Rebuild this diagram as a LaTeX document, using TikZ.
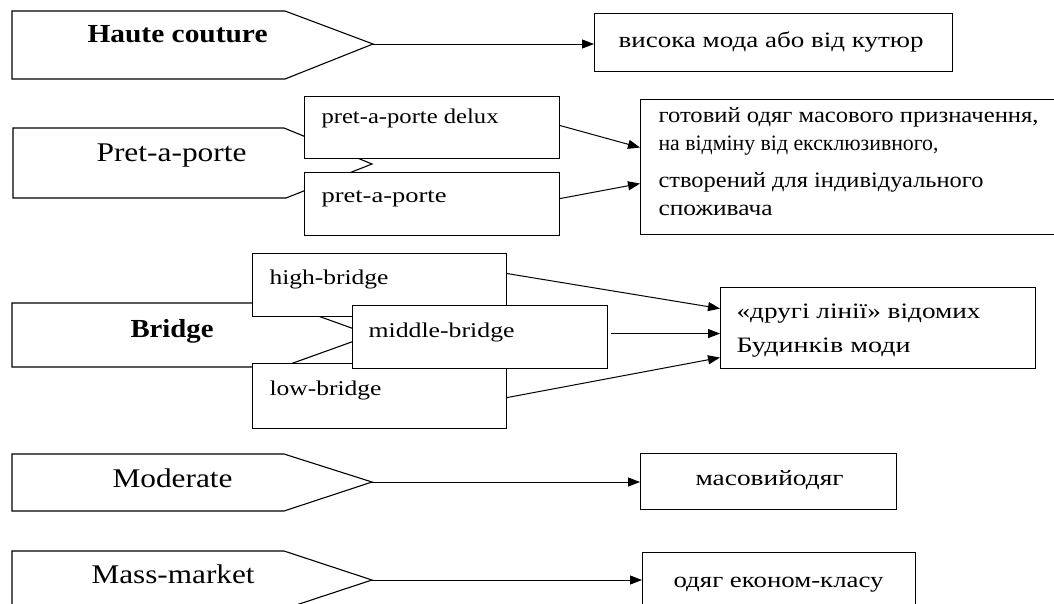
\documentclass[tikz,border=0pt]{standalone}
\usepackage{fontspec}
\usepackage{graphicx}
\setmainfont{Liberation Serif}
\usetikzlibrary{arrows.meta,calc}
\newcommand\fitw[2]{\resizebox{#1}{\height}{#2}}
\begin{document}
\begin{tikzpicture}[x=1pt,y=-1pt,line width=1.1pt,
  box/.style={draw,fill=white,inner sep=0pt,anchor=north west},
  pent/.style={draw,fill=white,line join=miter},
  txt/.style={inner sep=0pt,anchor=base west},
  ttlb/.style={txt,font=\bfseries\fontsize{26}{30}\selectfont},
  ttlr/.style={txt,font=\fontsize{27}{31}\selectfont},
  lbl/.style={txt,font=\fontsize{21}{25}\selectfont},
  cyr/.style={txt,font=\fontsize{22}{26}\selectfont},
  arr/.style={-{Triangle[length=12pt,width=9pt]},line width=1pt}]
\fill[white] (0,0) rectangle (1054,603);
\clip (0,0) rectangle (1054,603);

% ---------- Haute couture ----------
\draw[pent] (12,11) -- (285,11) -- (373,44) coordinate (hctip) -- (285,79) -- (12,79) -- cycle;
\node[ttlb] (hct) at (87,42.7) {\fitw{180pt}{Haute couture}};
\node[box,minimum width=358pt,minimum height=58pt] (hcbox) at (594,13) {};
\node[cyr] (hcd) at (618,47) {\fitw{305pt}{висока мода або від кутюр}};
\draw[arr] (hctip) -- (hctip -| hcbox.west);

% ---------- Pret-a-porte ----------
\draw[pent] (13,128) -- (284,128) -- (372,164) coordinate (pptip) -- (286,198) -- (13,198) -- cycle;
\node[ttlr] (ppt) at (96,161) {\fitw{150pt}{Pret-a-porte}};
\node[box,minimum width=255pt,minimum height=62pt] (pd) at (304,96) {};
\node[lbl] (pdt) at (321,123) {\fitw{177pt}{pret-a-porte delux}};
\node[box,minimum width=255pt,minimum height=63pt] (pp) at (304,172) {};
\node[lbl] (ppl) at (321,202) {\fitw{125pt}{pret-a-porte}};
\node[box,minimum width=420pt,minimum height=135pt] (rb) at (640,99) {};
\node[cyr] (rb1) at (658,122) {\fitw{380pt}{готовий одяг масового призначення,}};
\node[cyr] (rb2t) at (658,150) {\fitw{280pt}{на відміну від ексклюзивного,}};
\node[cyr] (rb3) at (658,187) {\fitw{325pt}{створений для індивідуального}};
\node[cyr] (rb4) at (658,215) {\fitw{114pt}{споживача}};
\draw[arr] ([yshift=2pt]pd.east) -- ([yshift=19.5pt]rb.west);
\draw[arr] ([yshift=5.5pt]pp.east) -- ([yshift=-16.5pt]rb.west);

% ---------- Bridge ----------
\draw[pent] (12,303) -- (282,303) -- (371,335) coordinate (brtip) -- (282,367) -- (12,367) -- cycle;
\node[ttlb] (brt) at (130,337) {\fitw{83pt}{Bridge}};
\node[box,minimum width=254pt,minimum height=63pt] (hb) at (252,253) {};
\node[lbl] (hbt) at (269,284) {\fitw{119pt}{high-bridge}};
\node[box,minimum width=254pt,minimum height=65pt] (lb) at (252,363) {};
\node[lbl] (lbt) at (269,395) {\fitw{112pt}{low-bridge}};
\node[box,minimum width=255pt,minimum height=63pt] (mb) at (352,305) {};
\node[lbl] (mbt) at (368,337) {\fitw{146pt}{middle-bridge}};
\node[box,minimum width=315pt,minimum height=81pt] (bb) at (720,287) {};
\node[cyr] (bb1) at (736,318) {\fitw{244pt}{«другі лінії» відомих}};
\node[cyr] (bb2) at (736,352) {\fitw{174pt}{Будинків моди}};
\draw[arr] ([yshift=11.5pt]hb.east) -- ([yshift=19.5pt]bb.west);
\draw[arr] ([xshift=3pt,yshift=3.5pt]mb.east) -- ([yshift=-5.5pt]bb.west);
\draw[arr] ([yshift=-1.5pt]lb.east) -- ([yshift=-29.5pt]bb.west);

% ---------- Moderate ----------
\draw[pent] (12,454) -- (284,454) -- (372,482) coordinate (mdtip) -- (284,511) -- (12,511) -- cycle;
\node[ttlr] (mdt) at (112,487) {\fitw{120pt}{Moderate}};
\node[box,minimum width=256pt,minimum height=56pt] (mdbox) at (640,453) {};
\node[cyr] (mdd) at (695,485) {\fitw{148pt}{масовийодяг}};
\draw[arr] (mdtip) -- (mdtip -| mdbox.west);

% ---------- Mass-market ----------
\draw[pent] (12,551) -- (284,551) -- (372,580) coordinate (mmtip) -- (284,609) -- (12,609) -- cycle;
\node[ttlr] (mmt) at (91,583) {\fitw{163pt}{Mass-market}};
\node[box,minimum width=273pt,minimum height=60pt] (mmbox) at (642,552) {};
\node[cyr] (mmd) at (673,587) {\fitw{210pt}{одяг економ-класу}};
\draw[arr] (mmtip) -- (mmtip -| mmbox.west);
\end{tikzpicture}
\end{document}
